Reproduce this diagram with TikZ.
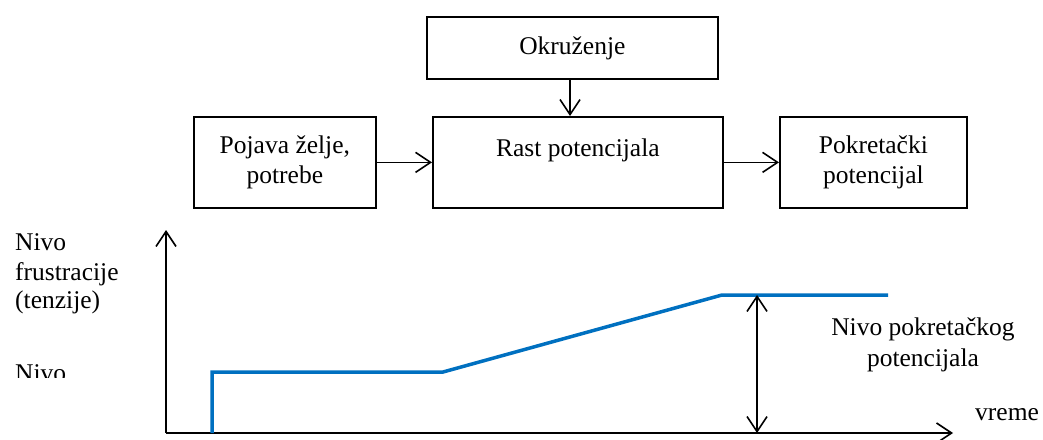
\documentclass[tikz,border=0pt]{standalone}
\usepackage{fontspec}
\setmainfont{Liberation Serif}
\usetikzlibrary{arrows.meta}
\definecolor{curveblue}{RGB}{0,112,192}
\begin{document}
\begin{tikzpicture}[x=1pt,y=-1pt,
  every node/.style={font=\fontsize{25.5}{29.5}\selectfont, inner sep=0pt},
  box/.style={draw, line width=1.7pt, align=center, anchor=north west},
  tip/.style={Straight Barb[length=15pt,width=20pt,line width=1.6pt]},
  conn/.style={line width=1.6pt, -{Straight Barb[length=15pt,width=20pt,line width=1.6pt]}},
  curve/.style={draw=curveblue, line width=3.5pt, line join=miter}
]
\useasboundingbox (0,0) rectangle (1043,439);
% boxes
\node[box, minimum width=291pt, minimum height=62pt] (okr) at (426,16) {Okruženje};
\node[box, minimum width=290pt, minimum height=91pt] (rast) at (432,116) {Rast potencijala\\\mbox{}};
\node[box, minimum width=182pt, minimum height=91pt] (poj) at (193,116) {Pojava želje,\\potrebe};
\node[box, minimum width=187pt, minimum height=91pt] (pok) at (779,116) {Pokretački\\potencijal};
% connectors
\draw[conn] (okr.south -| 570,0) -- (rast.north -| 570,0);
\draw[conn] (poj.east) -- (rast.west |- poj.east);
\draw[conn] (rast.east |- pok.west) -- (pok.west);
% axes
\coordinate (O) at (166,433);
\coordinate (ytop) at (166,230);
\coordinate (xend) at (953,433);
\draw[conn] (O) -- (ytop);
\draw[conn] (O) -- (xend);
% curve
\coordinate (c0) at (212,433);
\coordinate (c1) at (212,372);
\coordinate (c2) at (443,372);
\coordinate (c3) at (722,295);
\coordinate (c4) at (888,295);
\draw[curve] (c0) -- (c1) -- (c2) -- (c3) -- (c4);
% level arrow
\coordinate (lt) at (757,295);
\coordinate (lb) at (757,433);
\draw[line width=1.6pt, {Straight Barb[length=15pt,width=20pt,line width=1.6pt]}-{Straight Barb[length=15pt,width=20pt,line width=1.6pt]}] (lt) -- (lb);
% labels
\node[anchor=base west] (l1) at (15,250) {Nivo};
\node[anchor=base west] (l2) at (15,280) {frustracije};
\node[anchor=base west] (l3) at (15,308) {(tenzije)};
\begin{scope}
\clip (0,340) rectangle (150,377.5);
\node[anchor=base west] (l4) at (15,381) {Nivo};
\end{scope}
\node[anchor=base] (lvl) at (923,335) {Nivo pokretačkog};
\node[anchor=base] (lvl2) at (923,366) {potencijala};
\node[anchor=base west] (vr) at (975,420) {vreme};
\end{tikzpicture}
\end{document}
